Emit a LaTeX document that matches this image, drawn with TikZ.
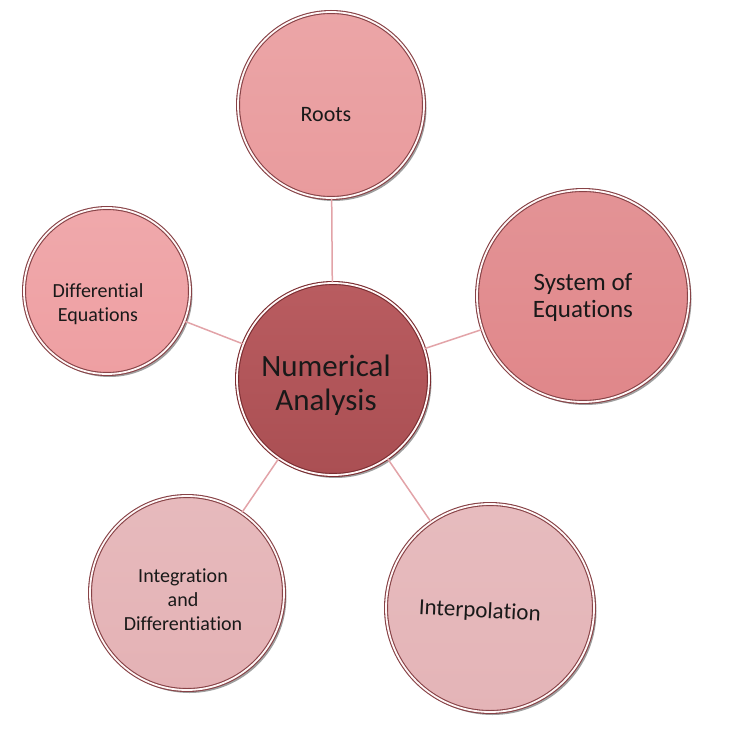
\documentclass[tikz,border=0pt]{standalone}
\usepackage{fontspec}
\setmainfont{Carlito}[Ligatures=NoCommon]
\usetikzlibrary{shadows}
\usepackage{xcolor}

\definecolor{hubtop}{HTML}{B95C60}
\definecolor{hubbot}{HTML}{AA4F53}
\definecolor{hubrim}{HTML}{7A2C30}
\definecolor{rootcol}{HTML}{E99B9D}
\definecolor{syscol}{HTML}{E0878A}
\definecolor{diffcol}{HTML}{EE9FA2}
\definecolor{intcol}{HTML}{E4B2B5}
\definecolor{polcol}{HTML}{E4B4B7}
\definecolor{rimcol}{HTML}{874246}
\definecolor{spokecol}{HTML}{E2A3A8}

\tikzset{
  bubble/.style={circle, inner sep=0pt,
    draw=rimcol, line width=1.1pt, double=white!88!pink, double distance=1.8pt,
    drop shadow={shadow xshift=2.5pt, shadow yshift=-3pt, opacity=0.5, fill=black!75}},
  every label/.style={align=center, text=black!90},
  spoke/.style={draw=spokecol, line width=1.5pt}
}

\begin{document}
\begin{tikzpicture}[x=1pt, y=-1pt]
    \useasboundingbox (0,0) rectangle (735,735);

    % centre
    \node[bubble, minimum size=192pt, top color=hubtop, bottom color=hubbot, draw=hubrim,
          label={[font=\fontsize{31}{34}\selectfont, xshift=-7pt, yshift=-6pt]center:{Numerical\\Analysis}}]
          (na) at (333,379) {};

    % outer topics
    \node[bubble, minimum size=186pt, top color=rootcol!90!white, bottom color=rootcol,
          label={[font=\fontsize{22}{26}\selectfont, xshift=-5pt, yshift=-10pt]center:Roots}]
          (roots) at (331,105) {};
    \node[bubble, minimum size=212pt, top color=syscol!90!white, bottom color=syscol,
          label={[font=\fontsize{25}{27}\selectfont, yshift=-1pt]center:{System of\\Equations}}]
          (sys) at (583,296) {};
    \node[bubble, minimum size=166pt, top color=diffcol!90!white, bottom color=diffcol,
          label={[font=\fontsize{20}{24}\selectfont, xshift=-9pt, yshift=-13pt]center:{Differential\\Equations}}]
          (deq) at (107,291) {};
    \node[bubble, minimum size=194pt, top color=intcol!90!white, bottom color=intcol,
          label={[font=\fontsize{20}{24}\selectfont, xshift=-4pt, yshift=-7pt]center:{Integration\\and\\Differentiation}}]
          (intdiff) at (187,593) {};
    \node[bubble, minimum size=208pt, top color=polcol!90!white, bottom color=polcol,
          label={[font=\fontsize{23}{26}\selectfont, rotate=-3, xshift=-10pt, yshift=-4pt]center:Interpolation}]
          (interp) at (490,608) {};

    % spokes
    \draw[spoke] (na) -- (roots);
    \draw[spoke] (na) -- (sys);
    \draw[spoke] (na) -- (deq);
    \draw[spoke] (na) -- (intdiff);
    \draw[spoke] (na) -- (interp);
\end{tikzpicture}
\end{document}
